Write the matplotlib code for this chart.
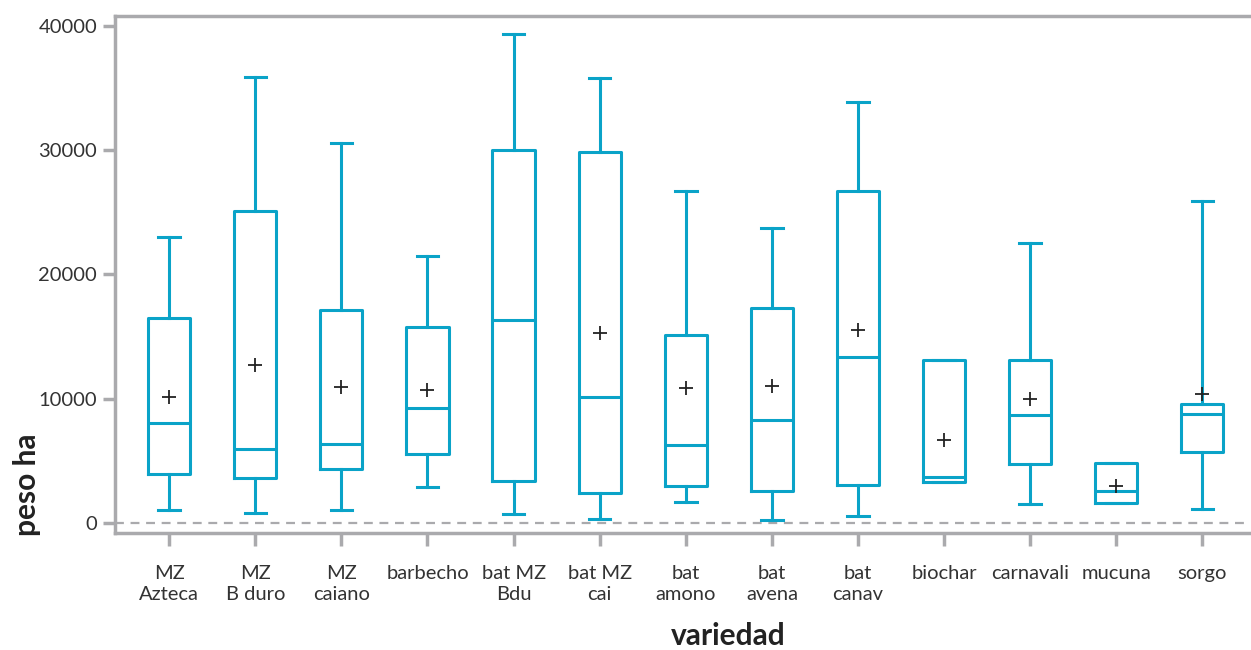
import numpy as np
import matplotlib.pyplot as plt

plt.rcParams['font.family'] = ['Lato', 'DejaVu Sans']

# box statistics
labels = ['MZ\nAzteca', 'MZ\nB duro', 'MZ\ncaiano', 'barbecho', 'bat MZ\nBdu', 'bat MZ\ncai',
          'bat\namono', 'bat\navena', 'bat\ncanav', 'biochar', 'carnavali', 'mucuna', 'sorgo']
whislo = [1020, 760, 1020, 2870, 700, 300, 1670, 220, 540, 3250, 1480, 1610, 1080]
q1 = [3920, 3620, 4320, 5530, 3360, 2390, 2950, 2550, 3040, 3250, 4700, 1610, 5690]
med = [8030, 5910, 6340, 9240, 16320, 10120, 6260, 8270, 13330, 3700, 8650, 2530, 8730]
q3 = [16480, 25100, 17130, 15760, 30010, 29850, 15110, 17290, 26690, 13100, 13080, 4810, 9530]
whishi = [23000, 35870, 30570, 21470, 39350, 35790, 26710, 23730, 33860, 13100, 22520, 4810, 25900]
means = [10120, 12700, 10930, 10680, np.nan, 15270, 10850, 11010, 15520, 6630, 9940, 2980, 10340]

col = '#0aa3c8'
grey = '#aaaaad'

stats = []
for i in range(len(labels)):
    stats.append(dict(label=labels[i], whislo=whislo[i], q1=q1[i], med=med[i],
                      q3=q3[i], whishi=whishi[i], fliers=[]))

fig = plt.figure(figsize=(12.51, 6.5), dpi=100)
ax = fig.add_axes([0.092, 0.18, 0.907, 0.795])

pos = np.arange(1, len(labels) + 1)
lp = dict(color=col, linewidth=2.2)
ax.bxp(stats, positions=pos, widths=0.49, showfliers=False,
       boxprops=lp, whiskerprops=lp, capprops=lp, medianprops=lp,
       capwidths=0.25)
ax.plot(pos, means, '+', color='#222222', markersize=10, markeredgewidth=1.3, zorder=5)

ax.axhline(0, color=grey, linestyle=(0, (4, 3)), linewidth=1.6, zorder=0)

ax.set_xlim(0.372, 13.55)
ax.set_ylim(-830, 40800)
ax.set_yticks([0, 10000, 20000, 30000, 40000])
ax.set_xticks(pos)
ax.set_xticklabels(labels, linespacing=1.3)

for s in ['left', 'top', 'bottom']:
    ax.spines[s].set_color(grey)
    ax.spines[s].set_linewidth(2.5)
ax.spines['right'].set_visible(False)
ax.tick_params(colors=grey, width=2.5, length=9, labelcolor='#333333', labelsize=14.5)
ax.tick_params(axis='x', pad=14)
ax.tick_params(axis='y', pad=4)

ax.set_ylabel('peso ha', fontsize=21.5, fontweight='bold', color='#222222', va='center')
ax.set_xlabel('variedad', fontsize=21.5, fontweight='bold', color='#222222', va='center')
ax.yaxis.set_label_coords(-0.078, 0.094)
ax.xaxis.set_label_coords(0.54, -0.2)

fig.savefig('out.png', dpi=100)
